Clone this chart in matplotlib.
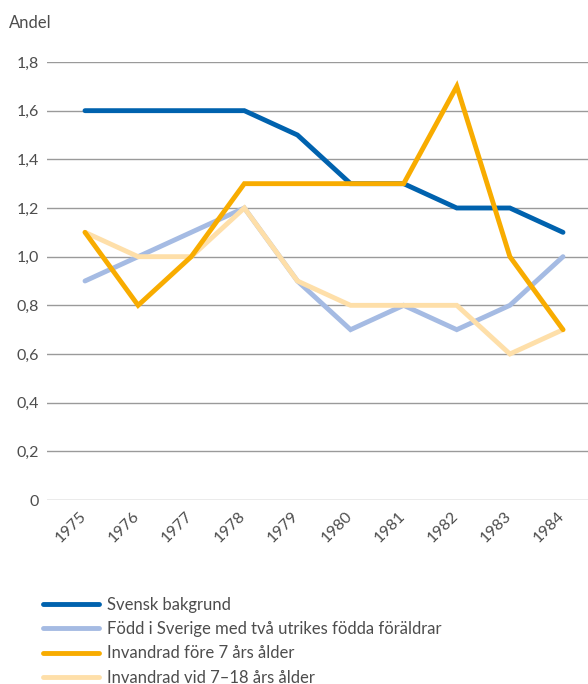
import numpy as np
from matplotlib import pyplot as plt
from matplotlib.transforms import offset_copy

plt.rcParams['font.family'] = ['Lato', 'DejaVu Sans']

years = [1975, 1976, 1977, 1978, 1979, 1980, 1981, 1982, 1983, 1984]
svensk = [1.6, 1.6, 1.6, 1.6, 1.5, 1.3, 1.3, 1.2, 1.2, 1.1]
fodd_sverige = [0.9, 1.0, 1.1, 1.2, 0.9, 0.7, 0.8, 0.7, 0.8, 1.0]
fore_7 = [1.1, 0.8, 1.0, 1.3, 1.3, 1.3, 1.3, 1.7, 1.0, 0.7]
vid_7_18 = [1.1, 1.0, 1.0, 1.2, 0.9, 0.8, 0.8, 0.8, 0.6, 0.7]
y_ticks = [0, 0.2, 0.4, 0.6, 0.8, 1.0, 1.2, 1.4, 1.6, 1.8]
y_labels = ['0', '0,2', '0,4', '0,6', '0,8', '1,0', '1,2', '1,4', '1,6', '1,8']
names = ['Svensk bakgrund', 'Född i Sverige med två utrikes födda föräldrar',
         'Invandrad före 7 års ålder', 'Invandrad vid 7–18 års ålder']

fig = plt.figure(figsize=(5.88, 6.84), dpi=100)
ax = fig.add_axes([47/588, 1 - 500/684, 1 - 47/588, (500 - 62)/684])

txt = '#4d4d4d'
lw = 3.5
kw = dict(lw=lw, solid_capstyle='round', solid_joinstyle='miter')
l1, = ax.plot(years, svensk, color='#0062ae', zorder=3, **kw)
l2, = ax.plot(years, fodd_sverige, color='#a5bbe3', zorder=3, **kw)
l4, = ax.plot(years, vid_7_18, color='#fedfa9', zorder=3, **kw)
l3, = ax.plot(years, fore_7, color='#f8ac00', zorder=4, **kw)

ax.set_xlim(1975 - 38/53.1, 1984 + 25/53.1)
ax.set_ylim(0, 1.8)
ax.set_yticks(y_ticks)
ax.set_yticklabels(y_labels)
ax.set_xticks(years)
ax.set_xticklabels([])
for s in ax.spines.values():
    s.set_visible(False)
ax.grid(axis='y', color='#9a9a9a', lw=1.0)
ax.set_axisbelow(True)
ax.tick_params(axis='both', length=0, colors=txt, labelsize=11.5)
ax.tick_params(axis='y', pad=5.5)

# year labels, rotated, centred a bit left of each tick
lab_tr = offset_copy(ax.get_xaxis_transform(), fig=fig, x=-14, y=-27, units='dots')
for y in years:
    ax.text(y, 0, str(y), transform=lab_tr, rotation=45, ha='center', va='center',
            rotation_mode='anchor', fontsize=11.5, color=txt)

fig.text(9/588, 1 - 23/684, 'Andel', color=txt, fontsize=12, va='center', ha='left')

leg = fig.legend([l1, l2, l3, l4], names, loc='upper left', bbox_to_anchor=(36/588, 1 - 590/684),
                 frameon=False, fontsize=12, labelcolor=txt, handlelength=3.4,
                 handletextpad=0.45, labelspacing=0.5, borderaxespad=0)
for h in leg.get_lines():
    h.set_linewidth(3.5)

fig.savefig('out.png', dpi=100)
